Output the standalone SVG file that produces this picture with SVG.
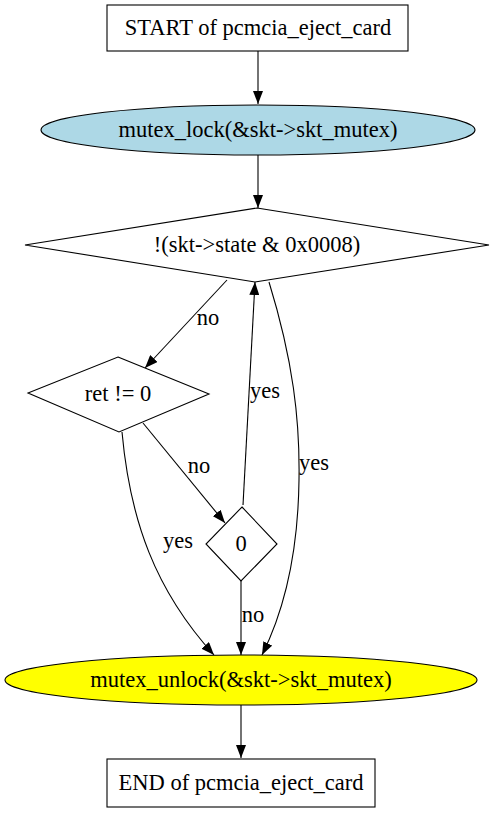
<svg xmlns="http://www.w3.org/2000/svg" width="493" height="813" viewBox="0 0 493 813">
<style>
  .shape { stroke: #000; stroke-width: 1.1; }
  .lbl { font-family: "Liberation Serif", "Times New Roman", serif; font-size: 22.5px; fill: #000; text-anchor: middle; }
  .edge { fill: none; stroke: #000; stroke-width: 1.1; }
</style>
<defs>
  <marker id="arrow" viewBox="0 0 13 10" refX="13" refY="5" markerWidth="13" markerHeight="10" markerUnits="userSpaceOnUse" orient="auto">
    <path d="M0,0 L13,5 L0,10 z" fill="#000"/>
  </marker>
</defs>
<rect width="493" height="813" fill="#fff"/>
<g id="edges">
  <path class="edge" marker-end="url(#arrow)" d="M258,51 L258,104"/>
  <path class="edge" marker-end="url(#arrow)" d="M258,155 L258,208"/>
  <path class="edge" marker-end="url(#arrow)" d="M227,280 L145,368"/>
  <text class="lbl" x="208" y="325">no</text>
  <path class="edge" marker-end="url(#arrow)" d="M143,423 L225,523"/>
  <text class="lbl" x="199" y="473">no</text>
  <path class="edge" marker-end="url(#arrow)" d="M243,505 L255,282"/>
  <text class="lbl" x="265" y="398">yes</text>
  <path class="edge" marker-end="url(#arrow)" d="M269,282 C293,360 300,420 299,480 C298,560 282,615 262,655"/>
  <text class="lbl" x="314" y="470">yes</text>
  <path class="edge" marker-end="url(#arrow)" d="M122,432 C130,520 155,590 214,655"/>
  <text class="lbl" x="178" y="548">yes</text>
  <path class="edge" marker-end="url(#arrow)" d="M241,581 L241,655"/>
  <text class="lbl" x="253" y="622">no</text>
  <path class="edge" marker-end="url(#arrow)" d="M241,705 L241,758"/>
</g>
<g id="start">
  <rect class="shape" x="107" y="5" width="301" height="46" fill="#fff"/>
  <text class="lbl" x="258" y="35">START of pcmcia_eject_card</text>
</g>
<g id="lock">
  <ellipse class="shape" cx="258" cy="130" rx="217" ry="25" fill="#add8e6"/>
  <text class="lbl" x="258" y="137">mutex_lock(&amp;skt-&gt;skt_mutex)</text>
</g>
<g id="cond1">
  <polygon class="shape" points="257,208 489,245 255,282 25,245" fill="#fff"/>
  <text class="lbl" x="257" y="252">!(skt-&gt;state &amp; 0x0008)</text>
</g>
<g id="cond2">
  <polygon class="shape" points="118,357 209,394 119,432 28,393" fill="#fff"/>
  <text class="lbl" x="118" y="401">ret != 0</text>
</g>
<g id="cond3">
  <polygon class="shape" points="242,507 277,544 241,581 206,544" fill="#fff"/>
  <text class="lbl" x="241" y="551">0</text>
</g>
<g id="unlock">
  <ellipse class="shape" cx="241" cy="680" rx="236" ry="25" fill="#ffff00"/>
  <text class="lbl" x="241" y="687">mutex_unlock(&amp;skt-&gt;skt_mutex)</text>
</g>
<g id="end">
  <rect class="shape" x="107" y="759" width="268" height="48" fill="#fff"/>
  <text class="lbl" x="241" y="790">END of pcmcia_eject_card</text>
</g>
</svg>
